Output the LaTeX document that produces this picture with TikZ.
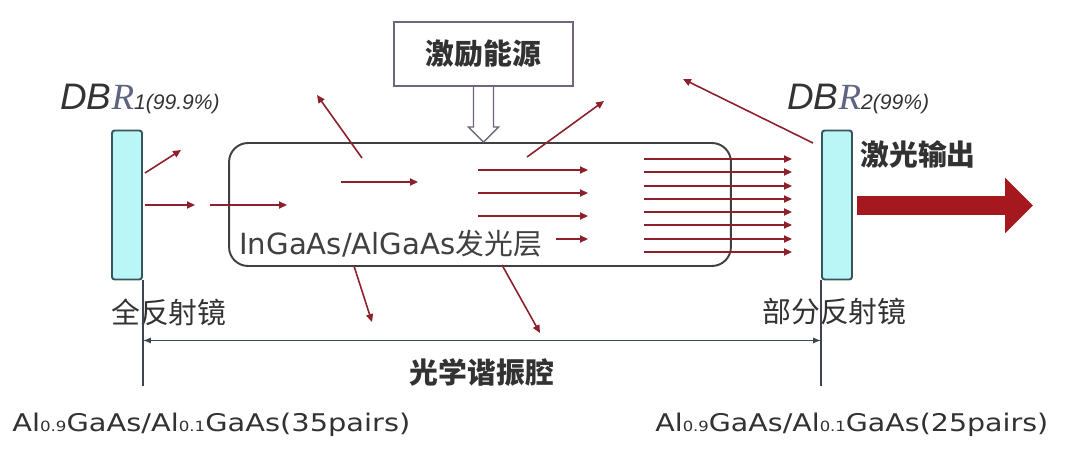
\documentclass[tikz,border=0pt]{standalone}
\usepackage{fontspec}
\usepackage{graphicx}
\setmainfont{DejaVu Sans}
\newfontfamily\cjk{Noto Sans CJK SC}
\newfontfamily\latin{DejaVu Sans}
\newfontfamily\dbrsans{Liberation Sans}
\newfontfamily\dbrserif{Liberation Serif}
\usetikzlibrary{arrows.meta}
\definecolor{rayred}{RGB}{142,32,44}
\definecolor{laserred}{RGB}{165,25,30}
\definecolor{mirrorfill}{RGB}{186,246,246}
\definecolor{mirrorline}{RGB}{55,85,95}
\definecolor{pumpline}{RGB}{115,100,125}
\definecolor{txt}{RGB}{50,50,50}
\definecolor{rgray}{RGB}{95,100,130}
\definecolor{dimline}{RGB}{60,68,82}
\newcommand{\alsub}[1]{{\fontsize{7.5}{7.5}\selectfont #1}}
\newcommand{\cjksize}{\fontsize{16.4}{18}\selectfont}

\begin{document}
\begin{tikzpicture}[x=0.02cm,y=-0.02cm,
	mirror/.style={draw=mirrorline,fill=mirrorfill,line width=1.1pt,rounded corners=1.5pt,
		minimum width=0.6cm,minimum height=2.98cm,inner sep=0},
	layer/.style={draw=black!75,line width=1.1pt,rounded corners=0.38cm,
		minimum width=10.04cm,minimum height=2.46cm,inner sep=0},
	pumpbox/.style={draw=pumpline,line width=0.9pt,minimum width=3.59cm,minimum height=1.29cm,inner sep=0},
	label/.style={inner sep=0,text=txt,font=\cjk\cjksize},
	ray/.style={draw=rayred,line width=0.9pt,-{Triangle[length=4.5pt,width=4pt]}},
	laser/.style={draw=laserred,line width=0.38cm,-{Triangle[length=0.56cm,width=1.08cm]}},
	dim/.style={draw=dimline,line width=0.8pt,{Latex[length=4.5pt,width=3.5pt]}-{Latex[length=4.5pt,width=3.5pt]}},
	ext/.style={draw=dimline,line width=0.8pt}]
	\fill[white] (0,0) rectangle (1073,453);
	% cavity parts
	\node[mirror] (dbr1) at (127,205) {};
	\node[mirror] (dbr2) at (837,205) {};
	\node[layer] (gain) at (480,204.5) {};
	\node[pumpbox] (pump) at (483.5,54) {};
	\node[label,font=\cjk\cjksize\bfseries] at (pump) {激励能源};
	\draw[draw=pumpline,fill=white,line width=0.8pt] (pump.south) ++(-10,0) -- ++(0,40) -- ++(-5,0)
		-- ++(15,15) -- ++(15,-15) -- ++(-5,0) -- ++(0,-40);
	% labels
	\node[inner sep=0,anchor=base west,text=black!80] (lab1) at (60,110)
		{\dbrsans\itshape\fontsize{21}{21}\selectfont DB{\dbrserif\color{rgray}R}{\fontsize{12}{12}\selectfont 1(99.9\%)}};
	\node[inner sep=0,anchor=base west,text=black!80] (lab2) at (787,110)
		{\dbrsans\itshape\fontsize{21}{21}\selectfont DB{\dbrserif\color{rgray}R}{\fontsize{12}{12}\selectfont 2(99\%)}};
	\node[label] (full) at (169,312) {全反射镜};
	\node[label] (part) at (834.5,312) {部分反射镜};
	\node[label,font=\cjk\cjksize\bfseries] (out) at (918,154) {激光输出};
	\node[label,anchor=west,text=black!75] (glow) at (239,244)
		{{\latin\fontsize{16.6}{18}\selectfont InGaAs/AlGaAs}发光层};
	% output beam
	\coordinate (beamA) at (857,205.5);
	\coordinate (beamB) at (1033,205.5);
	\draw[laser] (beamA) to (beamB);
	% cavity length
	\draw[ext] (dbr1.south east) -- ++(0,106);
	\draw[ext] (dbr2.south west) -- ++(0,106);
	\path (dbr1.south east) ++(0,60) coordinate (dimL);
	\path (dbr2.south west) ++(0,60) coordinate (dimR);
	\draw[dim] (dimL) to (dimR);
	\node[label,font=\cjk\cjksize\bfseries] (cav) at (482,373) {光学谐振腔};
	\node[inner sep=0,anchor=base west,text=txt] (pairs1) at (12,431)
		{\resizebox{7.96cm}{0.37cm}{\latin\fontsize{13}{13}\selectfont Al\alsub{0.9}GaAs/Al\alsub{0.1}GaAs(35pairs)}};
	\node[inner sep=0,anchor=base west,text=txt] (pairs2) at (655,431)
		{\resizebox{7.86cm}{0.37cm}{\latin\fontsize{13}{13}\selectfont Al\alsub{0.9}GaAs/Al\alsub{0.1}GaAs(25pairs)}};
	% light rays
	\coordinate (r1a) at (145,173); \coordinate (r1b) at (181,150);
	\coordinate (r2a) at (145,205); \coordinate (r2b) at (195,205);
	\coordinate (r3a) at (210,205); \coordinate (r3b) at (287,205);
	\coordinate (r4a) at (362,158); \coordinate (r4b) at (317,95);
	\coordinate (r5a) at (341,182); \coordinate (r5b) at (418,182);
	\coordinate (r6a) at (527,157); \coordinate (r6b) at (604,101);
	\coordinate (r7a) at (813,143); \coordinate (r7b) at (683,79);
	\coordinate (r8a) at (354,266); \coordinate (r8b) at (372,322);
	\coordinate (r9a) at (502,265); \coordinate (r9b) at (540,333);
	\foreach \i in {1,...,9}
		\draw[ray] (r\i a) to (r\i b);
	\foreach \y in {170,193,216}
		\draw[ray] (478,\y) to (588,\y);
	\draw[ray] (556,239) to (588,239);
	\foreach \y in {159,172,186,199,212,225,239,252}
		\draw[ray] (644,\y) to (792,\y);
\end{tikzpicture}
\end{document}
